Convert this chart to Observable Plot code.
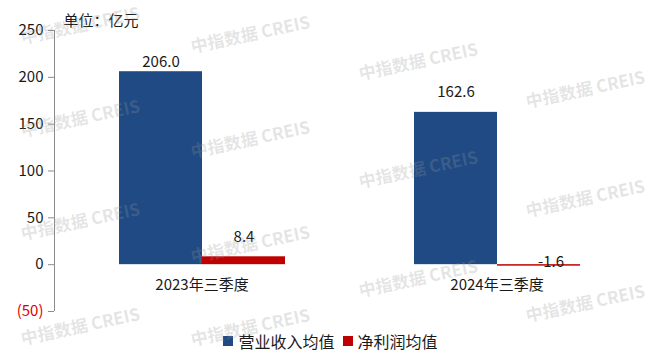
<!DOCTYPE html>
<html>
<head>
<meta charset="utf-8">
<script src="https://cdn.jsdelivr.net/npm/d3@7"></script>
<script src="https://cdn.jsdelivr.net/npm/@observablehq/plot@0.6"></script>
<style>
  html, body { margin: 0; padding: 0; background: #fff; }
  #wrap { position: relative; width: 652px; height: 357px; overflow: hidden; font-family: "Noto Sans CJK SC", "Noto Sans", sans-serif; }
  #chart svg { display: block; }
  #legend { position: absolute; left: 0; top: 333px; width: 652px; height: 16px; display: flex; justify-content: center; align-items: center; padding-left: 9px; box-sizing: border-box; font-size: 16px; color: #1a1a1a; gap: 8px; }
  #legend .item { display: flex; align-items: center; gap: 5px; white-space: nowrap; }
  #legend .sw { width: 10px; height: 10px; display: inline-block; }
  .wm { position: absolute; transform: translate(-50%, -50%) rotate(-12deg); font-size: 17px; font-weight: bold; color: rgba(150,150,150,0.25); white-space: nowrap; pointer-events: none; z-index: 5; font-family: "Noto Sans CJK SC", sans-serif; }
</style>
</head>
<body>
<div id="wrap">
  <div id="chart"></div>
  <div id="legend"></div>
</div>
<script>
// ---- data ----
const categories = ["2023年三季度", "2024年三季度"];
const series = ["营业收入均值", "净利润均值"];
const revenue = [206.0, 162.6];
const profit = [8.4, -1.6];
const yTicks = [-50, 0, 50, 100, 150, 200, 250];
const unitLabel = "单位：亿元";
const watermarkText = "中指数据 CREIS";

// ---- style ----
const colors = ["#1F4A84", "#C00000"];
const axisColor = "#8c8c8c";
const textColor = "#1a1a1a";
const negColor = "#e00000";
const labelCeiling = 195; // labels of very tall bars are kept below the top tick

const rows = [];
categories.forEach((c, i) => {
  rows.push({category: c, series: series[0], value: revenue[i]});
  rows.push({category: c, series: series[1], value: profit[i]});
});

// category axis baseline with boundary ticks (per facet)
function baseline(index, scales) {
  const [x0, x1] = scales.x.range();
  const y0 = Math.round(scales.y(0)) + 0.5;
  const g = d3.create("svg:g").attr("stroke", axisColor).attr("fill", "none");
  g.append("line").attr("x1", x0).attr("x2", x1).attr("y1", y0).attr("y2", y0);
  for (const xx of [Math.round(x0) + 0.5, Math.round(x1) - 0.5]) {
    g.append("line").attr("x1", xx).attr("x2", xx).attr("y1", y0).attr("y2", y0 + 7);
  }
  return g.node();
}

const chart = Plot.plot({
  width: 652,
  height: 322,
  marginLeft: 53,
  marginRight: 8,
  marginTop: 30,
  marginBottom: 11,
  style: {fontFamily: "'Noto Sans CJK SC', 'Noto Sans', sans-serif", fontSize: "15px", color: textColor, background: "#fff"},
  fx: {domain: categories, padding: 0, axis: null},
  x: {domain: series, paddingInner: 0, paddingOuter: 0.756, axis: null},
  y: {domain: [d3.min(yTicks), d3.max(yTicks)], axis: null},
  color: {domain: series, range: colors},
  marks: [
    Plot.dot(categories, {fx: d => d, render: baseline}),
    Plot.barY(rows, {fx: "category", x: "series", y: "value", fill: "series"}),
    Plot.axisY(yTicks.filter(d => d >= 0), {tickSize: 6, tickPadding: 5, stroke: axisColor, fill: textColor, fontSize: 15, label: null, tickFormat: d => String(d)}),
    Plot.axisY(yTicks.filter(d => d < 0), {tickSize: 6, tickPadding: 5, stroke: axisColor, fill: negColor, fontSize: 15, label: null, tickFormat: d => `(${Math.abs(d)})`}),
    Plot.text(rows.filter(d => d.value >= 0), {fx: "category", x: "series", y: d => Math.min(d.value, labelCeiling), text: d => d.value.toFixed(1), dy: -20, fontSize: 15, fill: textColor}),
    Plot.text(rows.filter(d => d.value < 0), {fx: "category", x: "series", y: () => 0, text: d => d.value.toFixed(1), dy: -2.5, dx: 12, fontSize: 15, fill: textColor}),
    Plot.text(categories, {fx: d => d, y: () => 0, text: d => d, dy: 21, fontSize: 15, fill: textColor}),
    Plot.text([unitLabel], {fx: () => categories[0], frameAnchor: "top-left", textAnchor: "start", lineAnchor: "top", dx: 9, dy: -15, fontSize: 15, fill: textColor})
  ]
});

// value axis line, placed from the chart's own scales
{
  const fxs = chart.scale("fx");
  const ys = chart.scale("y");
  const xl = Math.round(fxs.apply(categories[0])) + 0.5;
  d3.select(chart).append("line")
    .attr("x1", xl).attr("x2", xl)
    .attr("y1", ys.apply(d3.max(yTicks))).attr("y2", ys.apply(d3.min(yTicks)))
    .attr("stroke", axisColor);
}
document.getElementById("chart").appendChild(chart);

// legend
const legend = d3.select("#legend");
series.forEach((s, i) => {
  const it = legend.append("div").attr("class", "item");
  it.append("span").attr("class", "sw").style("background", colors[i]);
  it.append("span").text(s);
});

// watermark (decorative)
const wmPositions = [
  [80, 24], [80, 117], [80, 220], [80, 325],
  [250, 33], [250, 138], [250, 243], [250, 326],
  [418, 60], [418, 168], [418, 277],
  [585, 88], [585, 197], [585, 302]
];
const wrap = d3.select("#wrap");
wmPositions.forEach(([x, y]) => {
  wrap.append("div").attr("class", "wm").style("left", x + "px").style("top", y + "px").text(watermarkText);
});
</script>
</body>
</html>
